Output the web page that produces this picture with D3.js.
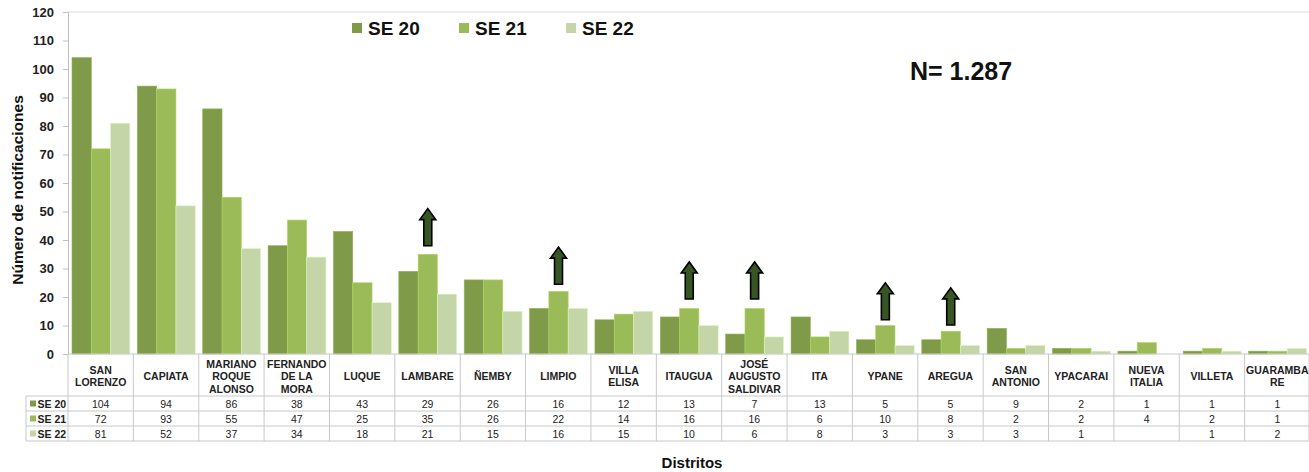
<!DOCTYPE html>
<html>
<head>
<meta charset="utf-8">
<script src="https://cdn.jsdelivr.net/npm/d3@7"></script>
<style>
  body { margin: 0; background: #fff; }
  svg text { font-family: "Liberation Sans", Arial, sans-serif; }
</style>
</head>
<body>
<div id="chart"></div>
<script>
// districts, header lines as printed in the table
const districts = ['SAN|LORENZO', 'CAPIATA', 'MARIANO|ROQUE|ALONSO', 'FERNANDO|DE LA|MORA', 'LUQUE',
  'LAMBARE', 'ÑEMBY', 'LIMPIO', 'VILLA|ELISA', 'ITAUGUA', 'JOSÉ|AUGUSTO|SALDIVAR', 'ITA', 'YPANE',
  'AREGUA', 'SAN|ANTONIO', 'YPACARAI', 'NUEVA|ITALIA', 'VILLETA', 'GUARAMBA|RE']
const series = ['SE 20', 'SE 21', 'SE 22']
const se20 = [104, 94, 86, 38, 43, 29, 26, 16, 12, 13, 7, 13, 5, 5, 9, 2, 1, 1, 1]
const se21 = [72, 93, 55, 47, 25, 35, 26, 22, 14, 16, 16, 6, 10, 8, 2, 2, 4, 2, 1]
const se22 = [81, 52, 37, 34, 18, 21, 15, 16, 15, 10, 6, 8, 3, 3, 3, 1, null, 1, 2]
const yTicks = [0, 10, 20, 30, 40, 50, 60, 70, 80, 90, 100, 110, 120]
// arrows above SE 21 bars: district index and base value
const arrowIdx = [5, 7, 9, 10, 12, 13]
const arrowBase = [38, 24.5, 19.3, 19.3, 12, 10.2]
const arrowLen = 13
const totalText = 'N= 1.287'

const width = 1309, height = 472
const colors = ['#7f9a48', '#9bbb59', '#c4d6a8']
const values = [se20, se21, se22]

const svg = d3.select('#chart').append('svg')
  .attr('width', width).attr('height', height)

const x = d3.scaleBand().domain(d3.range(districts.length)).range([68, 1310])
const y = d3.scaleLinear().domain([0, 120]).range([354, 12])
const xs = d3.scaleBand().domain(d3.range(3)).range([4, x.bandwidth() - 3.5])

// top line + axis
svg.append('line').attr('x1', 68).attr('x2', width).attr('y1', y(120)).attr('y2', y(120))
  .attr('stroke', '#d9d9d9')
const yAxis = svg.append('g').attr('transform', 'translate(68,0)')
  .call(d3.axisLeft(y).tickValues(yTicks).tickSize(5).tickPadding(9))
yAxis.select('.domain').attr('stroke', '#bfbfbf')
yAxis.selectAll('.tick line').attr('stroke', '#bfbfbf')
yAxis.selectAll('.tick text').attr('font-size', 13).attr('font-weight', 'bold').attr('fill', '#222')

// bars
values.forEach((vals, s) => {
  svg.append('g').selectAll('rect')
    .data(vals.map((v, i) => ({v, i})).filter(d => d.v != null))
    .join('rect')
      .attr('x', d => x(d.i) + xs(s)).attr('width', xs.bandwidth())
      .attr('y', d => y(d.v)).attr('height', d => y(0) - y(d.v))
      .attr('fill', colors[s]).attr('stroke', d3.color(colors[s]).brighter(0.4)).attr('stroke-width', 0.6)
})

// arrows
arrowIdx.forEach((idx, k) => {
  const cx = x(idx) + xs(1) + xs.bandwidth() / 2
  const yb = y(arrowBase[k]), yt = y(arrowBase[k] + arrowLen)
  const sw = 4, hw = 8, hh = 11
  const p = [[cx - sw, yb], [cx - sw, yt + hh], [cx - hw, yt + hh], [cx, yt], [cx + hw, yt + hh], [cx + sw, yt + hh], [cx + sw, yb]]
  svg.append('path').attr('d', d3.line()(p) + 'Z')
    .attr('fill', '#375623').attr('stroke', '#000').attr('stroke-width', 1.6)
})

// data table
const tTop = 354, hdrBot = 396, rowH = 15, tLeft = 26
const gridC = '#c8c8c8'
const t = svg.append('g')
t.append('line').attr('x1', 68).attr('x2', 1310).attr('y1', tTop).attr('y2', tTop).attr('stroke', gridC)
for (let r = 0; r <= 3; r++) {
  t.append('line').attr('x1', tLeft).attr('x2', 1310)
    .attr('y1', hdrBot + r * rowH).attr('y2', hdrBot + r * rowH).attr('stroke', gridC)
}
d3.range(districts.length + 1).forEach(i => {
  const xx = i < districts.length ? x(i) : x.range()[1] - 1
  t.append('line').attr('x1', xx).attr('x2', xx).attr('y1', tTop).attr('y2', hdrBot + 3 * rowH)
    .attr('stroke', gridC)
})
t.append('line').attr('x1', tLeft).attr('x2', tLeft).attr('y1', hdrBot).attr('y2', hdrBot + 3 * rowH).attr('stroke', gridC)

// header labels
districts.forEach((d, i) => {
  const lines = d.split('|')
  const cy = (tTop + hdrBot) / 2 + 1
  const lh = 12.5
  const txt = t.append('text').attr('text-anchor', 'middle').attr('font-size', 10.5)
    .attr('font-weight', 'bold').attr('fill', '#222')
  lines.forEach((l, j) => {
    txt.append('tspan').attr('x', x(i) + x.bandwidth() / 2)
      .attr('y', cy + (j - (lines.length - 1) / 2) * lh + 4).text(l)
  })
})
// rows
series.forEach((s, r) => {
  const ry = hdrBot + r * rowH
  t.append('rect').attr('x', tLeft + 4).attr('y', ry + 4.5).attr('width', 6).attr('height', 6).attr('fill', colors[r])
  t.append('text').attr('x', tLeft + 11.5).attr('y', ry + 11.5).attr('font-size', 10.5)
    .attr('font-weight', 'bold').attr('fill', '#222').text(s)
  values[r].forEach((v, i) => {
    if (v == null) return
    t.append('text').attr('x', x(i) + x.bandwidth() / 2).attr('y', ry + 11.5)
      .attr('text-anchor', 'middle').attr('font-size', 10.5).attr('fill', '#222').text(v)
  })
})

// legend
const lg = svg.append('g').attr('transform', 'translate(352,0)')
series.forEach((s, i) => {
  const g = lg.append('g').attr('transform', `translate(${i * 107},0)`)
  g.append('rect').attr('x', 0).attr('y', 23).attr('width', 10).attr('height', 10).attr('fill', colors[i])
  g.append('text').attr('x', 16).attr('y', 35).attr('font-size', 19).attr('font-weight', 'bold')
    .attr('fill', '#111').text(s)
})

// N total
svg.append('text').attr('x', 910).attr('y', 80).attr('font-size', 25).attr('font-weight', 'bold')
  .attr('font-family', '"Open Sans", sans-serif').attr('fill', '#111').text(totalText)

// axis titles
svg.append('text').attr('transform', 'translate(23,190) rotate(-90)').attr('text-anchor', 'middle')
  .attr('font-size', 15.5).attr('font-weight', 'bold').attr('fill', '#111').text('Número de notificaciones')
svg.append('text').attr('x', 692).attr('y', 468).attr('text-anchor', 'middle')
  .attr('font-size', 15).attr('font-weight', 'bold').attr('fill', '#111').text('Distritos')
</script>
</body>
</html>
